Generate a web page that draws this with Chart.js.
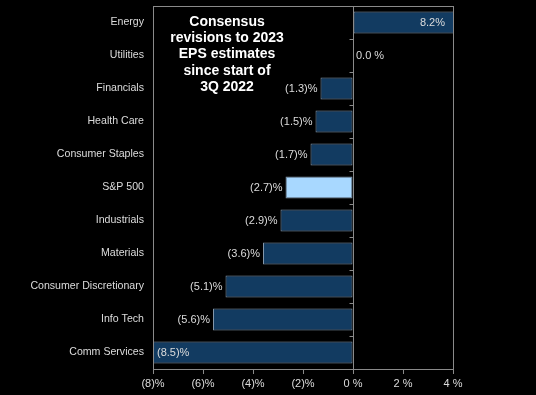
<!DOCTYPE html>
<html>
<head>
<meta charset="utf-8">
<script src="https://cdn.jsdelivr.net/npm/chart.js@4.4.1/dist/chart.umd.min.js"></script>
<style>
  html, body { margin: 0; padding: 0; background: #000; }
  #wrap { position: relative; width: 536px; height: 395px; }
</style>
</head>
<body>
<div id="wrap"><canvas id="epsChart" width="536" height="395"></canvas></div>
<script>
// Sectors, top to bottom
const sectors = ['Energy', 'Utilities', 'Financials', 'Health Care', 'Consumer Staples',
  'S&P 500', 'Industrials', 'Materials', 'Consumer Discretionary', 'Info Tech', 'Comm Services'];
// Revision to 2023 EPS estimates, %
const revisions = [8.2, 0.0, -1.3, -1.5, -1.7, -2.7, -2.9, -3.6, -5.1, -5.6, -8.5];
const xTicks = [-8, -6, -4, -2, 0, 2, 4];
const titleLines = ['Consensus', 'revisions to 2023', 'EPS estimates', 'since start of', '3Q 2022'];

const navy = '#123b61';
const highlight = '#a8d8ff';
const edge = '#8396a9';
const textColor = '#dcdcdc';
const lineColor = '#8a8a8a';

function fmtPct(v, decimals) {
  if (v < 0) return '(' + (-v).toFixed(decimals) + ')%';
  return v.toFixed(decimals) + (decimals ? '%' : ' %');
}

// frame, zero line, small ticks on the zero line, bar labels and title
const decorations = {
  id: 'decorations',
  afterDatasetsDraw(chart) {
    const ctx = chart.ctx;
    const area = chart.chartArea;
    const x = chart.scales.x;
    const y = chart.scales.y;
    const zero = Math.round(x.getPixelForValue(0)) + 0.5;

    ctx.save();
    ctx.strokeStyle = lineColor;
    ctx.lineWidth = 1;
    ctx.strokeRect(Math.round(area.left) + 0.5, Math.round(area.top) + 0.5,
      Math.round(area.width), Math.round(area.height));
    ctx.beginPath();
    ctx.moveTo(zero, area.top);
    ctx.lineTo(zero, area.bottom);
    for (let i = 0; i <= sectors.length; i++) {
      const py = Math.round(y.getPixelForValue(i - 0.5)) + 0.5;
      ctx.moveTo(zero - 4, py);
      ctx.lineTo(zero, py);
    }
    ctx.stroke();

    // value labels
    ctx.font = '11px "Liberation Sans", Arial, sans-serif';
    ctx.fillStyle = textColor;
    ctx.textBaseline = 'middle';
    const meta = chart.getDatasetMeta(0);
    revisions.forEach((v, i) => {
      const bar = meta.data[i];
      const text = v === 0 ? '0.0 %' : fmtPct(v, 1);
      const end = x.getPixelForValue(v);
      if (v > x.max) {
        ctx.textAlign = 'right';
        ctx.fillText(text, area.right - 8, bar.y);
      } else if (v < x.min) {
        ctx.textAlign = 'left';
        ctx.fillText(text, area.left + 4, bar.y);
      } else if (v < 0) {
        ctx.textAlign = 'right';
        ctx.fillText(text, end - 3, bar.y);
      } else {
        ctx.textAlign = 'left';
        ctx.fillText(text, end + 3, bar.y);
      }
    });

    // title block
    ctx.font = 'bold 14px "Liberation Sans", Arial, sans-serif';
    ctx.fillStyle = '#ffffff';
    ctx.textAlign = 'center';
    titleLines.forEach((line, i) => {
      ctx.fillText(line, 227, 22 + i * 16.3);
    });
    ctx.restore();
  }
};

const ctx = document.getElementById('epsChart').getContext('2d');
const epsChart = new Chart(ctx, {
  type: 'bar',
  data: {
    labels: sectors,
    datasets: [{
      data: revisions,
      backgroundColor: sectors.map(s => s === 'S&P 500' ? highlight : navy),
      borderColor: edge,
      borderWidth: 1,
      borderSkipped: false,
      barPercentage: 0.67,
      categoryPercentage: 1
    }]
  },
  options: {
    indexAxis: 'y',
    responsive: false,
    animation: false,
    layout: {
      padding: { top: 6, right: 83, bottom: 0, left: 0 }
    },
    plugins: {
      legend: { display: false },
      tooltip: { enabled: false }
    },
    scales: {
      x: {
        min: -8,
        max: 4,
        afterBuildTicks: scale => {
          scale.ticks = xTicks.map(v => ({ value: v }));
        },
        afterFit: scale => {
          scale.height = 26;
          scale.paddingLeft = 0;
          scale.paddingRight = 0;
        },
        grid: {
          drawOnChartArea: false,
          drawTicks: true,
          tickLength: 5,
          tickColor: lineColor
        },
        border: { display: true, color: lineColor },
        ticks: {
          color: textColor,
          padding: 3,
          maxRotation: 0,
          font: { family: '"Liberation Sans", Arial, sans-serif', size: 11 },
          callback: v => fmtPct(v, 0)
        }
      },
      y: {
        afterFit: scale => {
          scale.width = 153;
          scale.paddingTop = 0;
          scale.paddingBottom = 0;
        },
        grid: { display: false, drawTicks: false },
        border: { display: false },
        ticks: {
          color: textColor,
          padding: 9,
          font: { family: '"Liberation Sans", Arial, sans-serif', size: 10.6 }
        }
      }
    }
  },
  plugins: [decorations]
});
</script>
</body>
</html>
